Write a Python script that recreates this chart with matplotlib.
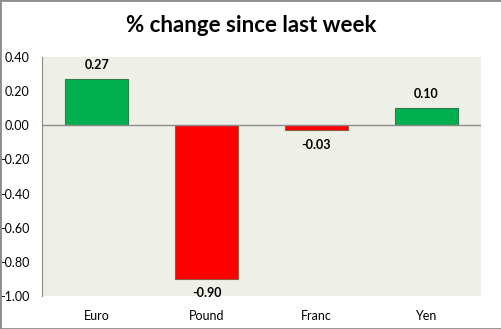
import matplotlib
matplotlib.use("Agg")
import matplotlib.pyplot as plt
from matplotlib.patches import Rectangle

# Haftalık değişim verisi
currencies = ["Euro", "Pound", "Franc", "Yen"]
changes = [0.27, -0.90, -0.03, 0.10]
y_ticks = [0.40, 0.20, 0.00, -0.20, -0.40, -0.60, -0.80, -1.00]

plt.rcParams['font.family'] = ['Lato', 'DejaVu Sans']

fig = plt.figure(figsize=(5.02, 3.29), dpi=100)
ax = fig.add_axes([42/502, 33/329, 439/502, 239/329])
ax.set_facecolor('#EEF0E8')

face = ['#00B050' if v >= 0 else '#FF0000' for v in changes]
edge = ['#2E7D4A' if v >= 0 else '#8C5A3C' for v in changes]
x = range(len(currencies))
ax.bar(x, changes, width=0.575, color=face, edgecolor=edge, linewidth=0.8, zorder=2)

for i, v in enumerate(changes):
    if v >= 0:
        ax.annotate(f"{v:.2f}", (i, v), xytext=(0, 6), textcoords='offset points',
                    ha='center', va='bottom', fontsize=9, fontweight='bold')
    else:
        ax.annotate(f"{v:.2f}", (i, v), xytext=(0, -6), textcoords='offset points',
                    ha='center', va='top', fontsize=9, fontweight='bold')

ax.axhline(0, color='#8C8C8C', linewidth=1, zorder=3)
ax.set_xlim(-0.5, 3.5)
ax.set_ylim(-1.0, 0.4)
ax.set_yticks(y_ticks)
ax.set_yticklabels([f"{t:.2f}" for t in y_ticks], fontsize=9)
ax.set_xticks(list(x))
ax.set_xticklabels(currencies, fontsize=9)
ax.tick_params(length=0, pad=10)
ax.tick_params(axis='y', pad=9)
for s in ['top', 'right', 'bottom']:
    ax.spines[s].set_visible(False)
ax.spines['left'].set_color('#8C8C8C')

fig.text(0.5, 1 - 26/329, "% change since last week", ha='center', va='center',
         fontsize=16, fontweight='bold')

# Dış çerçeve
fig.patches.append(Rectangle((0, 0), 1, 1, transform=fig.transFigure, fill=False,
                             edgecolor='#8C8C8C', linewidth=2))

fig.savefig("out.png", dpi=100)
